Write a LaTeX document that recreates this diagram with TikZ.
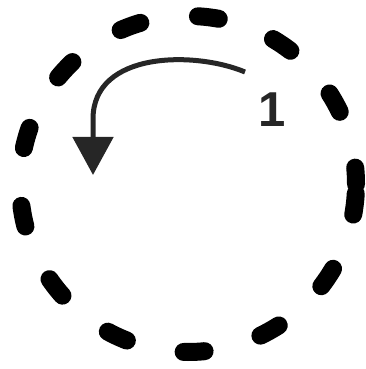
\documentclass[tikz,border=0pt]{standalone}
\usepackage{fontspec}
\setmainfont{Liberation Sans}
\usetikzlibrary{arrows.meta}
\tikzset{ring/.style={line width=18pt,line cap=round,dash pattern=on 21pt off 58.2pt,dash phase=4.6pt},arr/.style={-{Triangle[length=38pt,width=40pt]},line width=5pt,draw=black!85},lbl/.style={font=\bfseries\fontsize{49}{49}\selectfont,text=black!85,inner sep=0pt}}
\begin{document}
\begin{tikzpicture}[x=1pt,y=1pt]
\useasboundingbox(0,0)rectangle(365,369);
\coordinate(c)at(188,185);
\draw[ring](c)circle[radius=168];
\coordinate(s)at(245,297);
\coordinate(t)at(93,194);
\node[lbl](num)at(272,259){1};
\draw[arr](s)..controls(195,318)and(93,318)..(93,250)--(t);
\end{tikzpicture}
\end{document}
